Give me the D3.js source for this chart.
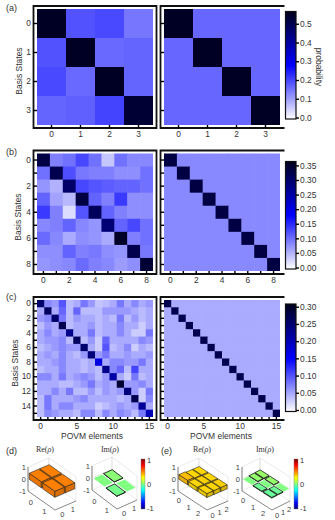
<!DOCTYPE html>
<html lang="en">
<head>
    <meta charset="UTF-8">
    <title>Tomography</title>
    <script src="https://d3js.org/d3.v7.min.js"></script>
    <style>
        html, body { margin: 0; padding: 0; background: #fff; }
        svg { display: block; font-family: "Liberation Sans", Arial, sans-serif; }
        .tick text { fill: #333; font-size: 8.4px; }
        .tick line { stroke: #000; stroke-width: 1.4px; }
        .axis .domain { display: none; }
        .lab { fill: #333; font-size: 8.5px; }
        .wall { stroke: #dcdcdc; stroke-width: 0.6px; fill: none; }
        .edge { stroke: #555; stroke-width: 0.7px; fill: none; }
        .z3 { fill: #444; font-size: 7.5px; }
    </style>
</head>
<body>
    <svg width="335" height="520"></svg>

    <script>
        // measured data, panel a
        const aExp = [
            [.55, .19, .20, .15],
            [.19, .55, .165, .17],
            [.20, .165, .55, .17],
            [.17, .175, .205, .53]
        ];
        const aThe = [
            [.55, .167, .167, .167],
            [.167, .55, .167, .167],
            [.167, .167, .55, .167],
            [.167, .167, .167, .55]
        ];

        // panel b
        const bExp = [
            [.33, .09, .10, .13, .10, .04, .10, .085, .085],
            [.10, .32, .125, .095, .09, .09, .08, .08, .10],
            [.075, .055, .30, .13, .12, .115, .11, .11, .10],
            [.11, .065, .05, .33, .11, .09, .14, .08, .08],
            [.14, .09, .025, .12, .31, .11, .09, .08, .08],
            [.085, .09, .11, .085, .075, .29, .11, .13, .10],
            [.105, .085, .06, .08, .075, .06, .35, .09, .10],
            [.08, .08, .11, .09, .095, .08, .075, .32, .095],
            [.075, .08, .085, .105, .09, .085, .07, .08, .34]
        ];
        const bOff = 0.083, bDiag = 0.33;

        // panel c
        const cExp = [
            [.25, .07, .06, .10, .04, .05, .08, .06, .035, .04, .05, .08, .05, .07, .05, .06],
            [.05, .26, .05, .09, .04, .09, .04, .04, .04, .06, .06, .06, .06, .05, .04, .05],
            [.06, .07, .25, .08, .04, .06, .05, .05, .04, .05, .04, .08, .04, .06, .04, .05],
            [.04, .06, .05, .27, .04, .05, .05, .06, .04, .05, .05, .07, .05, .05, .03, .05],
            [.05, .07, .05, .06, .23, .05, .05, .08, .04, .05, .05, .07, .05, .03, .03, .08],
            [.05, .06, .06, .07, .04, .26, .04, .06, .03, .09, .05, .05, .05, .05, .07, .06],
            [.04, .05, .06, .07, .06, .06, .25, .05, .03, .10, .04, .05, .07, .03, .05, .04],
            [.05, .06, .05, .07, .05, .04, .06, .24, .06, .08, .05, .05, .06, .05, .05, .06],
            [.05, .05, .06, .07, .05, .05, .04, .05, .17, .05, .07, .07, .06, .06, .08, .05],
            [.04, .05, .05, .07, .05, .05, .04, .05, .04, .23, .07, .09, .04, .11, .05, .05],
            [.07, .07, .05, .08, .05, .06, .07, .06, .04, .06, .21, .05, .03, .08, .04, .05],
            [.05, .05, .05, .04, .04, .05, .06, .08, .05, .06, .05, .29, .06, .06, .07, .05],
            [.05, .05, .07, .05, .08, .04, .04, .06, .04, .06, .05, .06, .24, .06, .03, .08],
            [.04, .08, .05, .05, .05, .06, .07, .05, .05, .05, .05, .04, .05, .27, .03, .07],
            [.04, .08, .05, .07, .07, .05, .05, .05, .03, .04, .05, .06, .05, .06, .22, .05],
            [.04, .07, .06, .05, .05, .04, .07, .07, .04, .07, .05, .07, .06, .04, .08, .20]
        ];
        const cOff = 0.05, cDiag = 0.27;

        // density matrices for d and e
        const dRe = [[.5, .5], [.5, .5]];
        const dIm = [[0, .02], [-.02, 0]];
        const eRe = [[.38, .33, .33], [.33, .34, .33], [.33, .33, .34]];
        const eIm = [[0, .04, .05], [-.04, 0, .04], [-.05, -.04, 0]];

        const aTicks = [0, .1, .2, .3, .4, .5];
        const bTicks = [0, .05, .1, .15, .2, .25, .3, .35];
        const cTicks = [0, .05, .1, .15, .2, .25, .3];
        const jetStops = [-1, -.75, -.25, .25, .75, 1];
        const jetColors = ["#00007f", "#0000ff", "#00ffff", "#ffff00", "#ff0000", "#7f0000"];

        const svg = d3.select("svg");
        const defs = svg.append("defs");

        function flat(off, diag, n) {
            return d3.range(n).map(i => d3.range(n).map(j => i === j ? diag : off));
        }

        function heatmap(m, color, o) {
            const n = m.length;
            const idx = d3.range(n);
            const x = d3.scaleBand().domain(idx).range([o.x0, o.x0 + 116]);
            const y = d3.scaleBand().domain(idx).range([o.y0, o.y1]);
            const g = svg.append("g");

            idx.forEach(i => {
                g.selectAll(null).data(m[i]).enter().append("rect")
                    .attr("x", (d, j) => x(j))
                    .attr("y", y(i))
                    .attr("width", (d, j) => x.bandwidth() + (j < n - 1 ? 0.6 : 0))
                    .attr("height", y.bandwidth() + (i < n - 1 ? 0.6 : 0))
                    .attr("fill", d => color(d));
            });

            // frame
            const l = o.x0 - 3.5, r = o.x0 + 119.5, t = o.y0 - 3, b = o.y1 + 3;
            const framePath = o.open
                ? `M${r + 1},${t}H${l}V${b}H${r + 1}`
                : `M${l},${t}H${r}V${b}H${l}Z`;
            g.append("path").attr("d", framePath)
                .attr("fill", "none").attr("stroke", "#111").attr("stroke-width", 1.8);

            g.append("g").attr("class", "axis")
                .attr("transform", `translate(${o.x0},0)`)
                .call(d3.axisLeft(y).tickSize(3.5).tickPadding(2.5)
                    .tickFormat(d => (!o.open && d % o.yStep === 0) ? d : ""));
            g.append("g").attr("class", "axis")
                .attr("transform", `translate(0,${o.y1})`)
                .call(d3.axisBottom(x).tickSize(3).tickPadding(3)
                    .tickFormat(d => d % o.xStep === 0 ? d : ""));
        }

        function colorbar(id, color, max, ticks, o) {
            const y = d3.scaleLinear().domain([0, max]).range([o.y0, o.y1]);
            const grad = defs.append("linearGradient").attr("id", id)
                .attr("x1", 0).attr("y1", 1).attr("x2", 0).attr("y2", 0);
            color.domain().forEach(v => {
                grad.append("stop").attr("offset", v / max).attr("stop-color", color(v));
            });
            svg.append("rect")
                .attr("x", 285.5).attr("y", y(max) - 1)
                .attr("width", 10.5).attr("height", y(0) - y(max) + 2.5)
                .attr("fill", `url(#${id})`).attr("stroke", "#111").attr("stroke-width", 1.2);
            svg.append("g").attr("class", "axis")
                .attr("transform", "translate(296,0)")
                .call(d3.axisRight(y).tickValues(ticks).tickSize(3).tickPadding(1)
                    .tickFormat(d3.format(o.fmt)));
        }

        function label(txt, x, y, size, extra) {
            return svg.append("text").attr("class", "lab")
                .attr("x", x).attr("y", y)
                .style("font-size", size + "px")
                .attr("text-anchor", extra || "start")
                .text(txt);
        }

        function rotLabel(txt, x, y, deg) {
            svg.append("text").attr("class", "lab")
                .attr("transform", `translate(${x},${y}) rotate(${deg})`)
                .attr("text-anchor", "middle").text(txt);
        }

        // colour scales: white -> blue -> near black
        const colA = d3.scaleLinear().domain([0, .28, .56]).range(["#fff", "#00f", "#00001c"]);
        const colB = d3.scaleLinear().domain([0, .18, .36]).range(["#fff", "#00f", "#00001c"]);
        const colC = d3.scaleLinear().domain([0, .15, .305]).range(["#fff", "#00f", "#00001c"]);
        const jet = d3.scaleLinear().domain(jetStops).range(jetColors);

        // a
        heatmap(aExp, colA, { x0: 37, y0: 9, y1: 125, yStep: 1, xStep: 1 });
        heatmap(aThe, colA, { x0: 164, y0: 9, y1: 125, yStep: 1, xStep: 1, open: true });
        colorbar("cbA", colA, .56, aTicks, { y0: 117.5, y1: 12.5, fmt: ".1f" });
        // b
        heatmap(bExp, colB, { x0: 37, y0: 153.5, y1: 271, yStep: 2, xStep: 2 });
        heatmap(flat(bOff, bDiag, 9), colB, { x0: 164, y0: 153.5, y1: 271, yStep: 2, xStep: 2, open: true });
        colorbar("cbB", colB, .36, bTicks, { y0: 267.5, y1: 162.5, fmt: ".2f" });
        // c
        heatmap(cExp, colC, { x0: 37, y0: 300, y1: 417, yStep: 2, xStep: 5 });
        heatmap(flat(cOff, cDiag, 16), colC, { x0: 164, y0: 300, y1: 417, yStep: 2, xStep: 5, open: true });
        colorbar("cbC", colC, .305, cTicks, { y0: 410, y1: 305, fmt: ".2f" });

        label("(a)", 6, 11, 9);
        label("(b)", 6, 155, 9);
        label("(c)", 6, 300, 9);
        label("(d)", 6, 454, 9);
        label("(e)", 161, 454, 9);
        rotLabel("Basis States", 22, 71, -90);
        rotLabel("Basis States", 21, 217, -90);
        rotLabel("Basis States", 18, 363, -90);
        rotLabel("probability", 316, 67, 90);
        label("POVM elements", 92, 439, 8.5, "middle");
        label("POVM elements", 221, 439, 8.5, "middle");

        function bars3d(m, o) {
            const n = m.length;
            const idx = d3.range(n);
            const band = d3.scaleBand().domain(idx).range([0, 1]).paddingInner(o.pad).paddingOuter(o.pad / 2);
            const z = d3.scaleLinear().domain([-1, 1]).range([0, o.h]);
            const p = (u, v, w) => [
                o.lx + u * (o.fx - o.lx) + v * (o.rx - o.fx),
                o.ly + u * (o.fy - o.ly) + v * (o.ry - o.fy) - z(w)
            ];
            const poly = pts => "M" + pts.map(q => q.join(",")).join("L") + "Z";
            const g = svg.append("g");

            // walls
            [-1, 0, 1].forEach(w => {
                g.append("path").attr("class", "wall")
                    .attr("d", `M${p(0, 0, w)}L${p(0, 1, w)}L${p(1, 1, w)}`);
            });
            [0, 1].forEach(t => {
                g.append("path").attr("class", "wall").attr("d", `M${p(0, t, -1)}L${p(0, t, 1)}`);
                g.append("path").attr("class", "wall").attr("d", `M${p(t, 1, -1)}L${p(t, 1, 1)}`);
            });
            g.append("path").attr("class", "edge").attr("d", `M${p(0, 0, 1)}L${p(0, 0, -1)}L${p(1, 0, -1)}L${p(1, 1, -1)}`);

            // back cells first
            const cells = [];
            idx.forEach(i => idx.forEach(j => cells.push({ i, j, v: m[i][j] })));
            cells.sort((a, b) => (a.i - a.j) - (b.i - b.j));

            cells.forEach(c => {
                const u0 = band(c.i), u1 = u0 + band.bandwidth();
                const v0 = band(c.j), v1 = v0 + band.bandwidth();
                const col = jet(c.v);
                const lo = Math.min(0, c.v), hi = Math.max(0, c.v);
                const stroke = c.v === 0 ? "none" : "#222";
                const sw = o.sw;
                if (c.v !== 0) {
                    g.append("path").attr("d", poly([p(u0, v0, hi), p(u1, v0, hi), p(u1, v0, lo), p(u0, v0, lo)]))
                        .attr("fill", d3.color(col).darker(0.25)).attr("stroke", stroke).attr("stroke-width", sw);
                    g.append("path").attr("d", poly([p(u1, v0, hi), p(u1, v1, hi), p(u1, v1, lo), p(u1, v0, lo)]))
                        .attr("fill", d3.color(col).darker(0.45)).attr("stroke", stroke).attr("stroke-width", sw);
                }
                g.append("path").attr("d", poly([p(u0, v0, hi), p(u1, v0, hi), p(u1, v1, hi), p(u0, v1, hi)]))
                    .attr("fill", col).attr("stroke", stroke).attr("stroke-width", sw);
            });

            // tick labels
            [1, 0, -1].forEach(w => {
                const q = p(0, 0, w);
                g.append("text").attr("class", "z3").attr("x", q[0] - 2).attr("y", q[1] + 2.5)
                    .attr("text-anchor", "end").text(w);
            });
            idx.forEach(i => {
                const c = band(i) + band.bandwidth() / 2;
                const a = p(c, 0, -1), b = p(1, c, -1);
                g.append("text").attr("class", "z3").attr("x", a[0] - 4).attr("y", a[1] + 9)
                    .attr("text-anchor", "middle").text(i);
                g.append("text").attr("class", "z3").attr("x", b[0] + 2).attr("y", b[1] + 9)
                    .attr("text-anchor", "middle").text(i);
            });
        }

        function rhoTitle(part, x) {
            const t = svg.append("text").attr("x", x).attr("y", 452)
                .attr("text-anchor", "middle").attr("fill", "#333")
                .style("font-family", "'Liberation Serif', serif").style("font-size", "8px");
            t.append("tspan").text(part + "(");
            t.append("tspan").attr("font-style", "italic").text("ρ");
            t.append("tspan").text(")");
        }

        function jetBar(id, x, w) {
            const y = d3.scaleLinear().domain([-1, 1]).range([508, 460]);
            const grad = defs.append("linearGradient").attr("id", id)
                .attr("x1", 0).attr("y1", 1).attr("x2", 0).attr("y2", 0);
            jetStops.forEach((v, i) => {
                grad.append("stop").attr("offset", (v + 1) / 2).attr("stop-color", jetColors[i]);
            });
            svg.append("rect").attr("x", x).attr("y", 459).attr("width", w).attr("height", 50)
                .attr("fill", `url(#${id})`).attr("stroke", "#777").attr("stroke-width", 0.4);
            svg.append("g").attr("class", "axis")
                .attr("transform", `translate(${x + w},0)`)
                .call(d3.axisRight(y).tickValues([-1, 0, 1]).tickSize(0).tickPadding(2).tickFormat(d => d))
                .selectAll("text").style("font-size", "7.5px");
        }

        bars3d(dRe, { lx: 28, ly: 491, fx: 55, fy: 510, rx: 76, ry: 501, h: 24, pad: .1, sw: .6 });
        bars3d(dIm, { lx: 92, ly: 490, fx: 117, fy: 509, rx: 137, ry: 500, h: 24, pad: .14, sw: .9 });
        bars3d(eRe, { lx: 178, ly: 491, fx: 207, fy: 510, rx: 228, ry: 501, h: 24, pad: .1, sw: .6 });
        bars3d(eIm, { lx: 242, ly: 491, fx: 272, fy: 510, rx: 290, ry: 501, h: 24, pad: .12, sw: .8 });

        rhoTitle("Re", 45);
        rhoTitle("Im", 110);
        rhoTitle("Re", 202);
        rhoTitle("Im", 265);
        jetBar("jetD", 141, 4);
        jetBar("jetE", 294, 4);
    </script>
</body>
</html>
